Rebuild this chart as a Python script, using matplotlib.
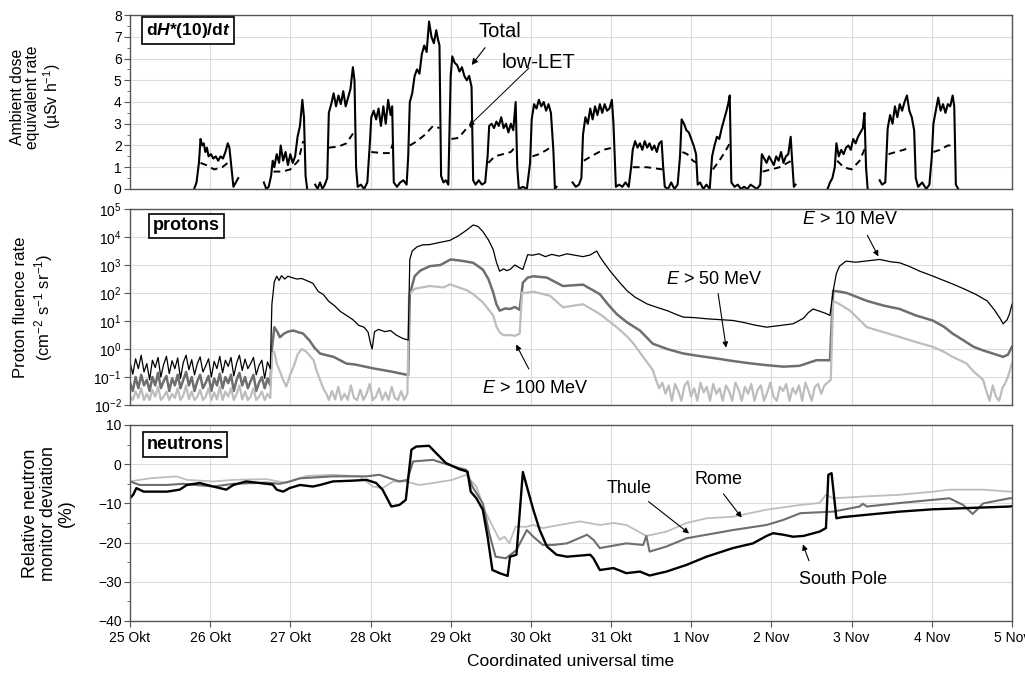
import numpy as np
import matplotlib
matplotlib.use('Agg')
import matplotlib.pyplot as plt
from matplotlib.ticker import FixedLocator, LogLocator, LogFormatterSciNotation, NullLocator, MultipleLocator

plt.rcParams['font.family'] = ['Liberation Sans', 'DejaVu Sans']
plt.rcParams['mathtext.fontset'] = 'custom'
plt.rcParams['mathtext.rm'] = 'Liberation Sans'
plt.rcParams['mathtext.it'] = 'Liberation Sans:italic'
plt.rcParams['mathtext.bf'] = 'Liberation Sans:bold'
plt.rcParams['mathtext.bfit'] = 'Liberation Sans:bold:italic'
plt.rcParams['axes.unicode_minus'] = True

nan = np.nan

# days since 25 Okt 00 UTC
day_labels = ['25 Okt', '26 Okt', '27 Okt', '28 Okt', '29 Okt', '30 Okt',
              '31 Okt', '1 Nov', '2 Nov', '3 Nov', '4 Nov', '5 Nov']

# --- ambient dose equivalent rate (µSv/h), flights separated by gaps
total_pts = [
    (0.80, 0.0), (0.83, 0.3), (0.86, 1.2), (0.88, 2.3), (0.90, 2.0), (0.92, 2.1), (0.94, 1.7), (0.96, 1.9),
    (0.98, 1.5), (1.01, 1.6), (1.04, 1.4), (1.07, 1.5), (1.10, 1.3), (1.13, 1.5), (1.16, 1.4), (1.19, 1.7),
    (1.22, 2.1), (1.24, 1.9), (1.27, 0.8), (1.29, 0.1), (1.32, 0.3), (1.35, 0.5), (nan, nan),
    (1.67, 0.3), (1.70, 0.0), (1.73, 0.1), (1.76, 0.6), (1.78, 1.3), (1.80, 1.0), (1.83, 1.6), (1.86, 1.2),
    (1.88, 2.0), (1.91, 1.3), (1.94, 1.7), (1.97, 1.1), (2.00, 1.6), (2.03, 1.2), (2.06, 1.5), (2.09, 2.4),
    (2.12, 2.9), (2.15, 4.1), (2.17, 3.3), (2.19, 0.6), (2.21, 0.0), (nan, nan),
    (2.31, 0.2), (2.34, 0.0), (2.37, 0.3), (2.40, 0.0), (2.43, 0.2), (2.46, 0.5), (2.48, 3.5), (2.51, 3.9),
    (2.54, 4.4), (2.57, 3.8), (2.60, 4.3), (2.63, 3.9), (2.66, 4.5), (2.69, 3.8), (2.72, 4.2), (2.75, 4.6),
    (2.78, 5.6), (2.80, 5.0), (2.82, 1.0), (2.84, 0.1), (2.88, 0.2), (2.92, 0.0), (2.96, 0.3),
    (2.99, 2.0), (3.01, 3.3), (3.04, 3.6), (3.07, 3.2), (3.10, 3.7), (3.13, 2.9), (3.16, 3.8), (3.19, 3.0),
    (3.22, 4.1), (3.25, 3.4), (3.27, 3.8), (3.29, 0.3), (3.33, 0.1), (3.37, 0.3), (3.41, 0.4), (3.45, 0.2),
    (3.47, 1.5), (3.49, 4.0), (3.52, 4.4), (3.55, 5.2), (3.58, 5.5), (3.61, 5.3), (3.64, 6.2), (3.67, 6.6),
    (3.70, 6.3), (3.73, 7.7), (3.76, 7.0), (3.79, 6.7), (3.82, 7.3), (3.84, 6.9), (3.86, 6.6), (3.88, 0.6),
    (3.91, 0.3), (3.94, 0.4), (3.97, 0.2),
    (4.00, 5.2), (4.02, 6.1), (4.05, 5.8), (4.08, 5.7), (4.11, 5.4), (4.14, 5.6), (4.17, 5.2), (4.20, 5.0),
    (4.23, 5.2), (4.26, 4.7), (4.28, 0.4), (4.31, 0.2), (4.35, 0.4), (4.39, 0.2), (4.43, 0.3),
    (4.46, 1.5), (4.48, 2.9), (4.51, 3.0), (4.54, 2.8), (4.57, 3.1), (4.60, 2.9), (4.63, 3.3), (4.66, 2.8),
    (4.69, 3.0), (4.72, 2.6), (4.75, 3.0), (4.78, 2.7), (4.81, 4.0), (4.83, 1.0), (4.85, 0.0), (4.90, 0.1),
    (4.95, 0.0),
    (4.99, 1.2), (5.01, 3.2), (5.04, 3.9), (5.07, 3.7), (5.10, 4.1), (5.13, 3.8), (5.16, 4.0), (5.19, 3.6),
    (5.22, 3.9), (5.25, 3.5), (5.28, 1.8), (5.30, 0.0), (5.32, 0.1), (nan, nan),
    (5.52, 0.3), (5.56, 0.1), (5.60, 0.2), (5.63, 0.5),
    (5.65, 2.5), (5.68, 3.3), (5.71, 3.0), (5.74, 3.7), (5.77, 3.2), (5.80, 3.8), (5.83, 3.4), (5.86, 3.9),
    (5.89, 3.5), (5.92, 3.9), (5.95, 3.6), (5.98, 3.7), (6.01, 4.1), (6.03, 3.0), (6.06, 0.1), (6.10, 0.2),
    (6.14, 0.1), (6.18, 0.3), (6.22, 0.1),
    (6.25, 1.0), (6.27, 1.8), (6.30, 2.2), (6.33, 1.9), (6.36, 2.1), (6.39, 1.8), (6.42, 2.2), (6.45, 1.9),
    (6.48, 2.1), (6.51, 1.8), (6.54, 2.0), (6.57, 1.7), (6.60, 2.1), (6.63, 2.2), (6.65, 1.0), (6.67, 0.1),
    (6.71, 0.0), (6.75, 0.3), (6.79, 0.0), (6.83, 0.2),
    (6.86, 1.5), (6.88, 3.2), (6.91, 3.0), (6.94, 2.7), (6.97, 2.6), (7.00, 2.3), (7.03, 2.0), (7.06, 1.6),
    (7.08, 0.2), (7.11, 0.3), (7.15, 0.0), (7.19, 0.2), (7.23, 0.0),
    (7.26, 1.5), (7.29, 2.0), (7.32, 2.4), (7.35, 2.3), (7.38, 2.8), (7.41, 3.2), (7.44, 3.6), (7.46, 3.9),
    (7.48, 4.3), (7.50, 0.3), (7.54, 0.1), (7.58, 0.2), (7.62, 0.0), (7.66, 0.1), (7.70, 0.0), (7.74, 0.2),
    (7.78, 0.1), (7.82, 0.0), (7.86, 0.2),
    (7.88, 1.6), (7.91, 1.4), (7.94, 1.2), (7.97, 1.5), (8.00, 1.3), (8.03, 1.1), (8.06, 1.5), (8.09, 1.3),
    (8.12, 1.7), (8.15, 1.2), (8.18, 1.5), (8.21, 1.6), (8.24, 2.4), (8.26, 1.2), (8.28, 0.1), (8.30, 0.2),
    (nan, nan),
    (8.70, 0.0), (8.73, 0.3), (8.76, 0.5), (8.79, 1.0), (8.81, 2.1), (8.84, 1.5), (8.87, 1.8), (8.90, 1.6),
    (8.93, 1.9), (8.96, 2.0), (8.99, 1.8), (9.02, 2.3), (9.05, 2.1), (9.08, 2.4), (9.11, 2.6), (9.14, 2.8),
    (9.16, 3.5), (9.18, 1.0), (9.20, 0.0), (nan, nan),
    (9.35, 0.4), (9.38, 0.2), (9.42, 0.3),
    (9.45, 2.8), (9.48, 3.4), (9.51, 3.0), (9.54, 3.8), (9.57, 3.3), (9.60, 3.9), (9.63, 3.6), (9.66, 4.0),
    (9.69, 4.3), (9.72, 3.6), (9.75, 3.3), (9.78, 2.7), (9.80, 0.5), (9.83, 0.1), (9.88, 0.3), (9.93, 0.0),
    (9.97, 0.2),
    (10.00, 1.5), (10.02, 3.0), (10.05, 3.6), (10.08, 4.2), (10.11, 3.6), (10.14, 3.9), (10.17, 3.5),
    (10.20, 3.9), (10.23, 3.8), (10.26, 4.3), (10.28, 3.8), (10.30, 0.2), (10.33, 0.0),
]

low_let_pts = [
    (0.88, 1.2), (0.95, 1.1), (1.05, 0.9), (1.15, 1.0), (1.22, 1.2), (nan, nan),
    (1.79, 0.8), (1.90, 0.8), (2.00, 0.9), (2.10, 1.3), (2.16, 2.2), (nan, nan),
    (2.48, 1.9), (2.60, 1.95), (2.70, 2.1), (2.79, 2.6), (nan, nan),
    (3.01, 1.7), (3.15, 1.65), (3.24, 1.65), (3.28, 2.1), (nan, nan),
    (3.49, 2.0), (3.58, 2.2), (3.68, 2.5), (3.78, 2.9), (3.86, 2.8), (nan, nan),
    (4.01, 2.3), (4.10, 2.35), (4.20, 2.8), (4.27, 2.9), (nan, nan),
    (4.47, 1.2), (4.55, 1.5), (4.65, 1.6), (4.75, 1.7), (4.82, 2.0), (nan, nan),
    (5.02, 1.5), (5.10, 1.6), (5.20, 1.8), (5.27, 2.0), (nan, nan),
    (5.66, 1.3), (5.75, 1.5), (5.90, 1.8), (6.02, 1.9), (nan, nan),
    (6.27, 1.0), (6.45, 1.0), (6.64, 0.9), (nan, nan),
    (6.89, 1.7), (6.95, 1.6), (7.02, 1.3), (7.07, 1.2), (nan, nan),
    (7.27, 0.9), (7.35, 1.3), (7.42, 1.7), (7.48, 2.1), (nan, nan),
    (7.89, 0.8), (8.00, 0.9), (8.10, 1.0), (8.25, 1.3), (nan, nan),
    (8.82, 1.3), (8.90, 1.0), (9.00, 0.9), (9.10, 1.3), (9.17, 1.9), (nan, nan),
    (9.46, 1.6), (9.55, 1.7), (9.65, 1.8), (9.72, 1.9), (nan, nan),
    (10.02, 1.7), (10.10, 1.8), (10.20, 2.0), (10.27, 2.0),
]

# --- proton fluence rates, stored as log10(cm^-2 s^-1 sr^-1)
# quiet period before the first event (25 Okt 00:00 - 26 Okt 18:00)
quiet_p10 = [-0.45, -0.9, -0.35, -0.7, -0.22, -0.82, -0.52, -1.1, -0.4, -0.66, -0.3, -1.0, -0.55, -0.26,
             -0.88, -0.42, -0.7, -0.32, -1.05, -0.48, -0.22, -0.74, -0.38, -0.92, -0.52, -0.28, -0.82, -0.6,
             -0.35, -1.0, -0.44, -0.7, -0.26, -0.85, -0.4, -0.62, -0.3, -0.96, -0.5, -0.22, -0.77, -0.36,
             -0.7, -0.52, -0.3, -0.92, -0.58, -0.4, -1.05, -0.46, -0.7]
quiet_p50 = [-1.2, -1.5, -1.0, -1.4, -0.92, -1.3, -1.1, -1.5, -1.0, -1.3, -0.85, -1.4, -1.15, -0.96, -1.5,
             -1.05, -1.3, -0.92, -1.4, -1.1, -0.82, -1.3, -1.0, -1.5, -1.15, -0.92, -1.4, -1.2, -0.96, -1.5,
             -1.05, -1.3, -0.88, -1.4, -1.0, -1.22, -0.92, -1.5, -1.1, -0.85, -1.3, -1.0, -1.4, -1.15,
             -0.92, -1.5, -1.2, -1.0, -1.4, -1.05, -1.3]
quiet_p100 = [-1.7, -1.82, -1.52, -1.75, -1.4, -1.82, -1.6, -1.82, -1.46, -1.7, -1.35, -1.82, -1.7, -1.52,
              -1.82, -1.6, -1.75, -1.4, -1.82, -1.66, -1.3, -1.8, -1.52, -1.82, -1.7, -1.46, -1.82, -1.7,
              -1.4, -1.82, -1.55, -1.8, -1.35, -1.82, -1.52, -1.7, -1.4, -1.82, -1.6, -1.3, -1.8, -1.52,
              -1.82, -1.7, -1.4, -1.82, -1.7, -1.52, -1.82, -1.6, -1.75]

t_p10 = [1.77, 1.80, 1.83, 1.86, 1.89, 1.93, 1.97, 2.02, 2.08, 2.14, 2.20, 2.28, 2.35, 2.41, 2.48, 2.55,
         2.62, 2.70, 2.78, 2.85, 2.92, 2.97, 3.00, 3.02, 3.05, 3.10, 3.18, 3.25, 3.32, 3.40, 3.47, 3.49,
         3.52, 3.58, 3.65, 3.74, 3.85, 3.99, 4.10, 4.20, 4.28, 4.34, 4.40, 4.47, 4.53, 4.57, 4.61, 4.66,
         4.70, 4.74, 4.80, 4.86, 4.90, 4.96, 5.02, 5.10, 5.18, 5.26, 5.35, 5.45, 5.55, 5.65, 5.74, 5.82,
         5.86, 5.92, 5.99, 6.10, 6.20, 6.30, 6.45, 6.58, 6.70, 6.80, 6.90, 7.05, 7.19, 7.35, 7.52, 7.65,
         7.80, 7.94, 8.10, 8.27, 8.40, 8.46, 8.52, 8.60, 8.67, 8.73, 8.77, 8.81, 8.85, 8.93, 9.05, 9.20,
         9.35, 9.48, 9.60, 9.72, 9.85, 10.00, 10.15, 10.27, 10.40, 10.55, 10.69, 10.78, 10.85, 10.89,
         10.94, 10.97, 11.0]
p10 = [1.6, 2.4, 2.6, 2.45, 2.62, 2.5, 2.6, 2.55, 2.5, 2.52, 2.45, 2.35, 2.05, 1.95, 1.7, 1.55, 1.35,
       1.2, 1.05, 0.85, 0.78, 0.6, 0.2, 0.0, 0.62, 0.7, 0.62, 0.66, 0.5, 0.38, 0.32, 3.2, 3.5, 3.65, 3.72,
       3.73, 3.8, 3.88, 4.05, 4.25, 4.43, 4.38, 4.2, 3.9, 3.55, 3.1, 2.78, 2.86, 2.8, 2.84, 3.0, 2.9, 2.84,
       3.37, 3.35, 3.4, 3.3, 3.38, 3.32, 3.4, 3.35, 3.3, 3.36, 3.5, 3.3, 3.05, 2.78, 2.4, 2.08, 1.85, 1.61,
       1.48, 1.37, 1.25, 1.14, 1.12, 1.08, 1.05, 1.02, 0.95, 0.85, 0.78, 0.84, 0.9, 1.1, 1.3, 1.43, 1.35,
       1.28, 1.2, 2.08, 2.7, 2.96, 3.14, 3.1, 3.15, 3.2, 3.12, 3.08, 2.95, 2.78, 2.62, 2.45, 2.31, 2.15,
       1.95, 1.72, 1.4, 1.1, 0.9, 1.05, 1.26, 1.6]

t_p50 = [1.77, 1.80, 1.84, 1.87, 1.92, 1.97, 2.04, 2.10, 2.16, 2.24, 2.30, 2.37, 2.45, 2.54, 2.62, 2.70,
         2.80, 2.95, 3.05, 3.15, 3.25, 3.37, 3.47, 3.49, 3.55, 3.62, 3.74, 3.87, 4.0, 4.14, 4.28, 4.4,
         4.47, 4.53, 4.57, 4.61, 4.68, 4.74, 4.8, 4.86, 4.9, 4.96, 5.03, 5.2, 5.4, 5.65, 5.86, 5.96, 6.07,
         6.2, 6.36, 6.52, 6.7, 6.9, 7.1, 7.32, 7.5, 7.73, 7.95, 8.15, 8.35, 8.56, 8.73, 8.77, 8.85, 8.94,
         9.19, 9.4, 9.6, 9.8, 10.01, 10.15, 10.26, 10.4, 10.52, 10.64, 10.76, 10.89, 10.95, 11.0]
p50 = [0.0, 0.78, 0.6, 0.42, 0.55, 0.62, 0.66, 0.6, 0.55, 0.3, 0.05, -0.16, -0.22, -0.28, -0.4, -0.52,
       -0.55, -0.64, -0.7, -0.75, -0.8, -0.87, -0.93, 1.95, 2.6, 2.8, 2.96, 3.0, 3.2, 3.15, 3.08, 2.84,
       2.5, 2.02, 1.6, 1.37, 1.45, 1.43, 1.5, 1.4, 2.37, 2.55, 2.6, 2.55, 2.25, 2.3, 1.96, 1.6, 1.25,
       0.95, 0.66, 0.19, 0.0, -0.16, -0.25, -0.34, -0.42, -0.51, -0.58, -0.63, -0.6, -0.4, -0.4, 2.08,
       2.05, 2.0, 1.72, 1.55, 1.43, 1.2, 1.02, 0.8, 0.55, 0.3, 0.08, -0.05, -0.16, -0.28, -0.2, 0.08]

t_p100_a = [1.77, 1.80, 1.83, 1.87, 1.91, 1.95, 2.0, 2.04, 2.09, 2.14, 2.2, 2.29, 2.33, 2.37, 2.41, 2.45]
p100_a = [-0.16, -0.1, -0.52, -0.8, -1.1, -1.34, -0.9, -0.64, -0.2, 0.0, -0.1, -0.4, -0.8, -1.1, -1.4, -1.6]
floor_p100_a = [-1.82, -1.5, -1.8, -1.35, -1.82, -1.6, -1.82, -1.3, -1.75, -1.82, -1.45, -1.82, -1.6,
                -1.25, -1.82, -1.7, -1.4, -1.82, -1.55, -1.82, -1.35, -1.75, -1.82, -1.5, -1.82, -1.6]
t_p100_b = [3.48, 3.55, 3.62, 3.74, 3.91, 3.99, 4.2, 4.28, 4.4, 4.53, 4.57, 4.61, 4.66, 4.74, 4.8, 4.86,
            4.89, 4.92, 5.03, 5.24, 5.4, 5.65, 5.86, 6.07, 6.2, 6.28, 6.4, 6.52]
p100_b = [1.95, 2.15, 2.19, 2.25, 2.2, 2.31, 2.1, 1.96, 1.67, 1.2, 0.8, 0.6, 0.49, 0.5, 0.47, 0.55, 2.02,
          2.0, 2.05, 1.9, 1.49, 1.6, 1.25, 0.78, 0.45, 0.19, -0.28, -0.75]
floor_p100_b = [-1.1, -1.4, -1.2, -1.6, -1.3, -1.85, -1.25, -1.5, -1.85, -1.3, -1.15, -1.7, -1.4, -1.85,
                -1.2, -1.55, -1.35, -1.85, -1.25, -1.6, -1.4, -1.85, -1.3, -1.5, -1.85, -1.2, -1.45, -1.85,
                -1.35, -1.6, -1.25, -1.85, -1.45, -1.3, -1.85, -1.55, -1.2, -1.7, -1.85, -1.35, -1.5,
                -1.25, -1.85, -1.4, -1.6, -1.3, -1.85, -1.2, -1.5, -1.85, -1.35, -1.25, -1.6, -1.3, -1.2, -1.1]
t_p100_c = [8.77, 8.85, 8.98, 9.19, 9.4, 9.6, 9.8, 10.01, 10.15, 10.26, 10.43, 10.52, 10.64]
p100_c = [1.72, 1.6, 1.37, 0.78, 0.6, 0.43, 0.25, 0.08, -0.1, -0.28, -0.51, -0.8, -1.1]
floor_p100_c = [-1.5, -1.85, -1.3, -1.7, -1.85, -1.4, -1.2, -0.9, -0.5]

# --- neutron monitor deviation (%)
t_sp = [0, 0.04, 0.08, 0.17, 0.46, 0.62, 0.71, 0.87, 1.0, 1.08, 1.2, 1.29, 1.45, 1.7, 1.78, 1.83, 1.91,
        1.99, 2.12, 2.28, 2.37, 2.53, 2.78, 2.95, 3.07, 3.15, 3.26, 3.36, 3.44, 3.51, 3.57, 3.73, 3.82,
        3.94, 4.11, 4.21, 4.25, 4.32, 4.4, 4.46, 4.52, 4.61, 4.71, 4.74, 4.82, 4.9, 4.95, 5.03, 5.11, 5.2,
        5.32, 5.45, 5.74, 5.78, 5.86, 6.03, 6.19, 6.36, 6.48, 6.69, 6.94, 7.19, 7.52, 7.77, 7.94, 8.02,
        8.15, 8.27, 8.4, 8.6, 8.68, 8.71, 8.75, 8.81, 8.89, 9.19, 9.6, 10.02, 10.43, 10.97, 11.0]
south_pole = [-8.7, -7.8, -6.1, -7.0, -7.0, -6.5, -5.3, -4.8, -5.5, -5.9, -6.5, -5.3, -4.4, -5.0, -5.2,
              -6.5, -7.0, -6.1, -5.3, -5.7, -5.3, -4.4, -4.2, -4.0, -4.8, -6.5, -10.8, -10.4, -9.1, 3.7,
              4.5, 4.7, 2.8, 0.3, -1.3, -1.9, -7.0, -8.7, -11.6, -18.5, -27.0, -27.8, -28.5, -23.6, -23.1,
              -2.0, -5.7, -11.6, -16.8, -21.0, -23.1, -23.6, -23.1, -24.0, -27.0, -26.5, -27.8, -27.4,
              -28.4, -27.4, -25.7, -23.6, -21.4, -20.2, -18.3, -17.6, -18.0, -18.5, -18.3, -17.2, -16.3,
              -2.7, -2.3, -13.8, -13.5, -12.9, -12.1, -11.5, -11.2, -10.8, -10.7]

t_th = [0, 0.12, 0.46, 0.66, 1.04, 1.29, 1.7, 1.87, 1.99, 2.12, 2.53, 2.95, 3.11, 3.24, 3.36, 3.46, 3.53,
        3.78, 3.9, 4.11, 4.19, 4.27, 4.4, 4.48, 4.56, 4.69, 4.77, 4.82, 4.95, 5.03, 5.15, 5.28, 5.45, 5.7,
        5.78, 5.86, 6.19, 6.4, 6.44, 6.48, 6.69, 6.94, 7.19, 7.52, 7.94, 8.15, 8.36, 8.77, 9.1, 9.14, 9.19,
        9.6, 10.22, 10.39, 10.51, 10.64, 10.97, 11.0]
thule = [-4.4, -5.3, -5.3, -5.0, -5.7, -5.0, -4.7, -5.0, -4.4, -3.6, -3.1, -3.1, -2.7, -3.6, -4.4, -4.0,
         0.7, 1.1, 0.3, -1.0, -1.4, -5.7, -10.0, -17.6, -23.6, -24.0, -22.7, -21.9, -16.8, -18.5, -20.6,
         -20.6, -20.2, -18.0, -19.3, -21.4, -20.2, -20.6, -18.3, -22.3, -21.0, -18.9, -18.0, -16.8, -15.5,
         -14.2, -12.5, -12.1, -10.8, -10.1, -10.8, -9.9, -8.7, -10.4, -12.7, -10.0, -8.7, -8.7]

t_ro = [0, 0.25, 0.58, 0.71, 1.04, 1.29, 1.7, 1.95, 2.2, 2.53, 2.86, 3.03, 3.15, 3.28, 3.44, 3.61, 3.78,
        4.02, 4.19, 4.32, 4.44, 4.61, 4.67, 4.73, 4.81, 4.94, 5.03, 5.15, 5.36, 5.61, 5.86, 6.03, 6.19,
        6.44, 6.69, 6.94, 7.19, 7.52, 7.94, 8.36, 8.6, 8.68, 8.77, 9.19, 9.6, 10.02, 10.22, 10.64, 10.97, 11.0]
rome = [-4.4, -3.6, -3.1, -4.0, -4.4, -4.0, -3.8, -4.8, -3.0, -2.7, -3.1, -5.7, -6.1, -4.4, -4.4, -5.3,
        -4.8, -4.0, -2.7, -5.7, -12.5, -19.3, -18.5, -20.2, -15.9, -16.0, -15.5, -16.3, -15.5, -14.6, -15.5,
        -15.0, -15.5, -18.3, -17.2, -15.0, -13.8, -13.4, -11.6, -10.4, -9.9, -7.8, -8.7, -8.2, -7.8, -7.0,
        -6.5, -6.5, -7.0, -7.0]

# ------------------------------------------------------------------
fig = plt.figure(figsize=(10.25, 6.73), dpi=100)
ax1 = fig.add_axes([0.1268, 0.7192, 0.8605, 0.2585])
ax2 = fig.add_axes([0.1268, 0.3982, 0.8605, 0.2912])
ax3 = fig.add_axes([0.1268, 0.0773, 0.8605, 0.2912])

frame = '#555555'
for ax in (ax1, ax2, ax3):
    ax.set_xlim(0, 11)
    ax.xaxis.set_major_locator(FixedLocator(range(12)))
    ax.grid(True, which='major', color='#dcdcdc', lw=0.8)
    ax.set_axisbelow(True)
    for s in ax.spines.values():
        s.set_color(frame)
        s.set_linewidth(1.0)
    ax.tick_params(axis='y', which='major', direction='out', length=4, color=frame, labelsize=10, pad=2)
    ax.tick_params(axis='y', which='minor', direction='out', length=2.5, color=frame)
for ax in (ax1, ax2):
    ax.tick_params(axis='x', length=0, labelbottom=False)

# top panel
tt, tv = zip(*total_pts)
lt, lv = zip(*low_let_pts)
ax1.plot(tt, tv, color='black', lw=1.5)
ax1.plot(lt, lv, color='black', lw=1.4, ls=(0, (3.5, 2.5)))
ax1.set_ylim(0, 8)
ax1.set_yticks(range(9))
ax1.yaxis.set_minor_locator(MultipleLocator(0.5))
ax1.set_ylabel('Ambient dose\nequivalent rate\n(µSv h$^{-1}$)', fontsize=11.3, linespacing=1.05)
ax1.yaxis.set_label_coords(-0.076, 0.53)
ax1.text(0.018, 0.91, r'd$\mathbfit{H}$*(10)/d$\mathbfit{t}$', transform=ax1.transAxes,
         fontsize=12.5, fontweight='bold', va='center', ha='left',
         bbox=dict(boxstyle='square,pad=0.22', fc='white', ec='black', lw=1.2))
ax1.text(4.61, 7.25, 'Total', fontsize=14.5, ha='center', va='center')
ax1.annotate('', xy=(4.24, 5.6), xytext=(4.45, 6.6),
             arrowprops=dict(arrowstyle='-|>', color='black', lw=0.8, mutation_scale=9))
ax1.text(5.09, 5.8, 'low-LET', fontsize=14.5, ha='center', va='center')
ax1.annotate('', xy=(4.2, 2.8), xytext=(5.0, 5.65),
             arrowprops=dict(arrowstyle='-|>', color='black', lw=0.7, mutation_scale=8))

# middle panel
t_quiet = np.linspace(0, 1.75, len(quiet_p10))
ax2.plot(np.r_[t_quiet, t_p50], 10 ** np.r_[quiet_p50, p50], color='#6e6e6e', lw=1.8)
t100 = np.r_[t_quiet, t_p100_a, np.linspace(2.48, 3.46, len(floor_p100_a)), t_p100_b,
             np.linspace(6.56, 8.74, len(floor_p100_b)), t_p100_c,
             np.linspace(10.68, 11.0, len(floor_p100_c))]
v100 = np.r_[quiet_p100, p100_a, floor_p100_a, p100_b, floor_p100_b, p100_c, floor_p100_c]
ax2.plot(t100, 10 ** v100, color='#bdbdbd', lw=1.6)
ax2.plot(np.r_[t_quiet, t_p10], 10 ** np.r_[quiet_p10, p10], color='black', lw=0.9)
ax2.set_yscale('log')
ax2.set_ylim(1e-2, 1e5)
ax2.yaxis.set_major_locator(LogLocator(base=10, numticks=10))
ax2.yaxis.set_minor_locator(NullLocator())
ax2.yaxis.set_major_formatter(LogFormatterSciNotation())
ax2.set_ylabel('Proton fluence rate\n(cm$^{-2}$ s$^{-1}$ sr$^{-1}$)', fontsize=12, linespacing=1.25)
ax2.yaxis.set_label_coords(-0.085, 0.5)
ax2.text(0.026, 0.915, 'protons', transform=ax2.transAxes, fontsize=13, fontweight='bold',
         va='center', ha='left', bbox=dict(boxstyle='square,pad=0.2', fc='white', ec='black', lw=1.2))
ax2.text(8.98, 10 ** 4.62, r'$\mathit{E}$ > 10 MeV', fontsize=13, ha='center', va='center')
ax2.annotate('', xy=(9.35, 10 ** 3.22), xytext=(9.18, 10 ** 4.15),
             arrowprops=dict(arrowstyle='-|>', color='black', lw=0.8, mutation_scale=8))
ax2.text(7.29, 10 ** 2.5, r'$\mathit{E}$ > 50 MeV', fontsize=13, ha='center', va='center')
ax2.annotate('', xy=(7.44, 10 ** -0.05), xytext=(7.33, 10 ** 2.08),
             arrowprops=dict(arrowstyle='-|>', color='black', lw=0.8, mutation_scale=8))
ax2.text(5.06, 10 ** -1.42, r'$\mathit{E}$ > 100 MeV', fontsize=13, ha='center', va='center')
ax2.annotate('', xy=(4.8, 10 ** 0.25), xytext=(4.99, 10 ** -0.8),
             arrowprops=dict(arrowstyle='-|>', color='black', lw=0.8, mutation_scale=8))

# bottom panel
ax3.plot(t_ro, rome, color='#bdbdbd', lw=1.3)
ax3.plot(t_th, thule, color='#6e6e6e', lw=1.5)
ax3.plot(t_sp, south_pole, color='black', lw=1.7)
ax3.set_ylim(-40, 10)
ax3.set_yticks([-40, -30, -20, -10, 0, 10])
ax3.set_yticks([-35, -25, -15, -5, 5], minor=True)
ax3.set_xticklabels(day_labels)
ax3.tick_params(axis='x', direction='out', length=4, color=frame, labelsize=10, pad=3)
ax3.set_ylabel('Relative neutron\nmonitor deviation\n(%)', fontsize=12.8, linespacing=1.1)
ax3.yaxis.set_label_coords(-0.062, 0.55)
ax3.set_xlabel('Coordinated universal time', fontsize=12.5, labelpad=7)
ax3.text(0.019, 0.9, 'neutrons', transform=ax3.transAxes, fontsize=13, fontweight='bold',
         va='center', ha='left', bbox=dict(boxstyle='square,pad=0.2', fc='white', ec='black', lw=1.2))
ax3.text(6.23, -6.3, 'Thule', fontsize=13, ha='center', va='center')
ax3.annotate('', xy=(7.0, -18.1), xytext=(6.44, -9.1),
             arrowprops=dict(arrowstyle='-|>', color='black', lw=0.8, mutation_scale=8))
ax3.text(7.34, -4.0, 'Rome', fontsize=13, ha='center', va='center')
ax3.annotate('', xy=(7.65, -14.2), xytext=(7.38, -7.0),
             arrowprops=dict(arrowstyle='-|>', color='black', lw=0.8, mutation_scale=8))
ax3.text(8.89, -29.5, 'South Pole', fontsize=13, ha='center', va='center')
ax3.annotate('', xy=(8.38, -19.8), xytext=(8.48, -25.3),
             arrowprops=dict(arrowstyle='-|>', color='black', lw=0.8, mutation_scale=8))

fig.savefig('out.png', dpi=100)
